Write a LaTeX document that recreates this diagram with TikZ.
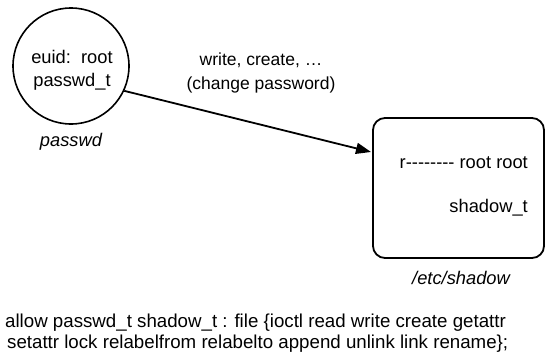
\documentclass[tikz,border=0pt]{standalone}
\usepackage{fontspec}
\setmainfont{Liberation Sans}
\usetikzlibrary{arrows.meta}
\begin{document}
\begin{tikzpicture}[x=1pt,y=-1pt,
  txt/.style={font=\fontsize{18.3}{23}\selectfont, inner sep=0pt},
  lbltxt/.style={font=\fontsize{17.5}{24}\selectfont, inner sep=0pt},
  rtxt/.style={font=\fontsize{18.7}{21}\selectfont, inner sep=0pt},
  proc/.style={draw, circle, line width=1.6pt, minimum size=116pt, inner sep=0pt},
  filebox/.style={draw, rounded corners=12pt, line width=1.8pt, minimum width=171pt, minimum height=140pt, inner sep=0pt},
  conn/.style={line width=1.8pt, -{Triangle[length=15pt,width=11pt]}}]
\useasboundingbox (0,0) rectangle (546,356);
\node[proc] (c) at (71,66) {};
\node[txt, align=center] (ctext) at (72,70) {euid:\ \ root\\passwd\_t};
\node[txt, font=\fontsize{18.3}{23}\selectfont\itshape] (cname) at (71,142) {passwd};
\node[filebox] (box) at (458.5,188) {};
\node[txt, anchor=east] (perm) at (528,163) {r-{}-{}-{}-{}-{}-{}-{}- root root};
\node[txt, anchor=east] (stype) at (528,208) {shadow\_t};
\node[txt, font=\fontsize{18.3}{23}\selectfont\itshape] (bname) at (461,278) {/etc/shadow};
\coordinate (tip) at (371,152);
\draw[conn] (c.-25) -- (tip);
\node[lbltxt, align=center] (lbl) at (261,73) {write, create, …\\(change password)};
\node[rtxt, anchor=west, align=left] (rule) at (5,333) {allow passwd\_t shadow\_t : file \{ioctl read write create getattr\\\hspace*{2pt}setattr lock relabelfrom relabelto append unlink link rename\};};
\end{tikzpicture}
\end{document}
